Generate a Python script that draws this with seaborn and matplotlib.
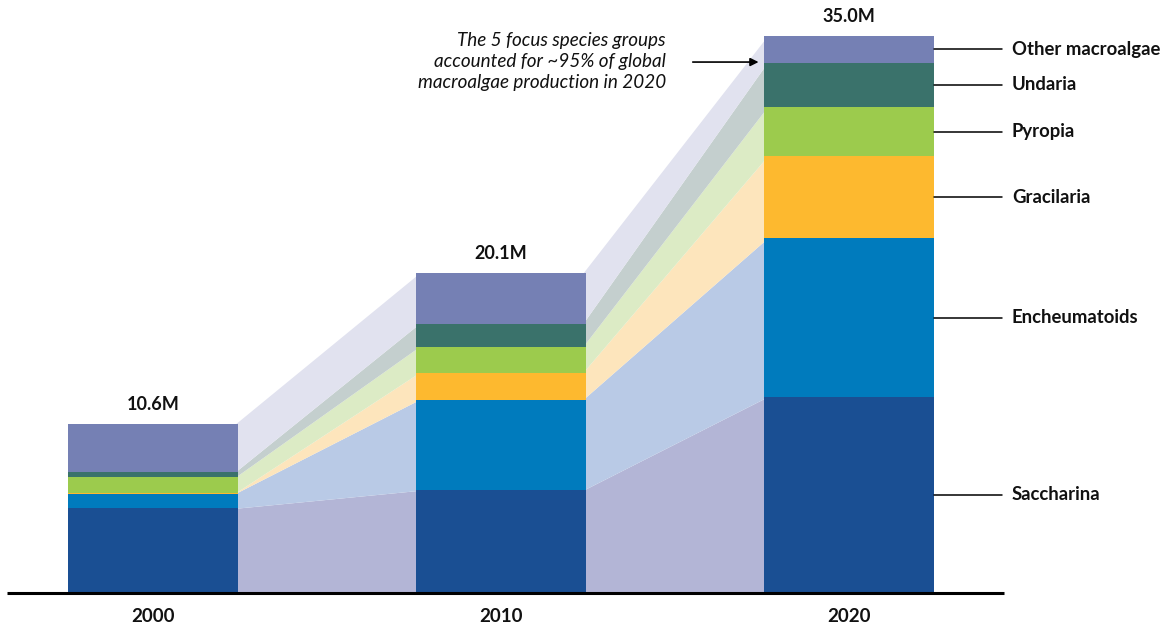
import numpy as np
import pandas as pd
import seaborn as sns
import matplotlib.pyplot as plt


years = ['2000', '2010', '2020']
species = ['Saccharina', 'Encheumatoids', 'Gracilaria', 'Pyropia', 'Undaria', 'Other macroalgae']

# production, million tonnes
saccharina = [5.32, 6.45, 12.32]
encheumatoids = [0.92, 5.70, 9.97]
gracilaria = [0.03, 1.70, 5.15]
pyropia = [0.99, 1.63, 3.10]
undaria = [0.33, 1.45, 2.79]
other = [3.01, 3.17, 1.67]

total_labels = ['10.6M', '20.1M', '35.0M']

bar_colors = ['#1a4f93', '#007bbd', '#fdb92f', '#9ccb4d', '#3a726b', '#7580b4']
band_colors = ['#b3b5d6', '#b9cae6', '#fde5bc', '#dcebc5', '#c4cfce', '#e1e2ef']

values = np.array([saccharina, encheumatoids, gracilaria, pyropia, undaria, other])
tops = values.cumsum(axis=0)
bottoms = tops - values

bar_w = 0.49

sns.set_style('white')
plt.rcParams['font.family'] = ['Lato', 'DejaVu Sans']

fig = plt.figure(figsize=(11.69, 6.29), dpi=100)
ax = fig.add_axes([0, 0, 1, 1])

# bars drawn as cumulative totals, tallest first so the lower ones paint over
for i in reversed(range(len(species))):
    df = pd.DataFrame({'year': years, 'value': tops[i]})
    sns.barplot(data=df, x='year', y='value', color=bar_colors[i], saturation=1,
                width=bar_w, errorbar=None, ax=ax, zorder=3, linewidth=0)

# light bands joining the bars (tucked a little under the bars, no seams)
for i in range(len(species)):
    for j in range(len(years) - 1):
        x0 = j + bar_w / 2 - 0.01
        x1 = j + 1 - bar_w / 2 + 0.01
        ax.fill_between([x0, x1], [bottoms[i][j], bottoms[i][j + 1]],
                        [tops[i][j], tops[i][j + 1]], color=band_colors[i],
                        linewidth=0, zorder=1)

# total labels and years
for j in range(len(years)):
    ax.text(j, tops[-1][j] + 1.25, total_labels[j], ha='center', va='center',
            fontsize=13, fontweight='bold', color='#111111')
    ax.text(j, -1.45, years[j], ha='center', va='center',
            fontsize=13.5, fontweight='bold', color='#111111')

# species labels on the right of the last bar
for i in range(len(species)):
    mid = (bottoms[i][-1] + tops[i][-1]) / 2
    ax.plot([2 + bar_w / 2, 2.44], [mid, mid], color='black', lw=1.1, zorder=4)
    ax.text(2.468, mid, species[i], ha='left', va='center',
            fontsize=13.3, fontweight='bold', color='#111111')

# baseline
ax.plot([-0.42, 2.445], [0, 0], color='black', lw=2.2, zorder=5, solid_capstyle='butt')

ax.text(1.474, 33.4, 'The 5 focus species groups\naccounted for ~95% of global\nmacroalgae production in 2020',
        ha='right', va='center', fontsize=13.6, style='italic', linespacing=1.3, color='#111111')
ax.annotate('', xy=(1.748, 33.37), xytext=(1.543, 33.37),
            arrowprops=dict(arrowstyle='-|>', color='black', lw=1.2, mutation_scale=12))

ax.set_xlim(-0.4397, 2.9195)
ax.set_ylim(-2.263, 37.27)
ax.axis('off')

plt.savefig('out.png', dpi=100)
